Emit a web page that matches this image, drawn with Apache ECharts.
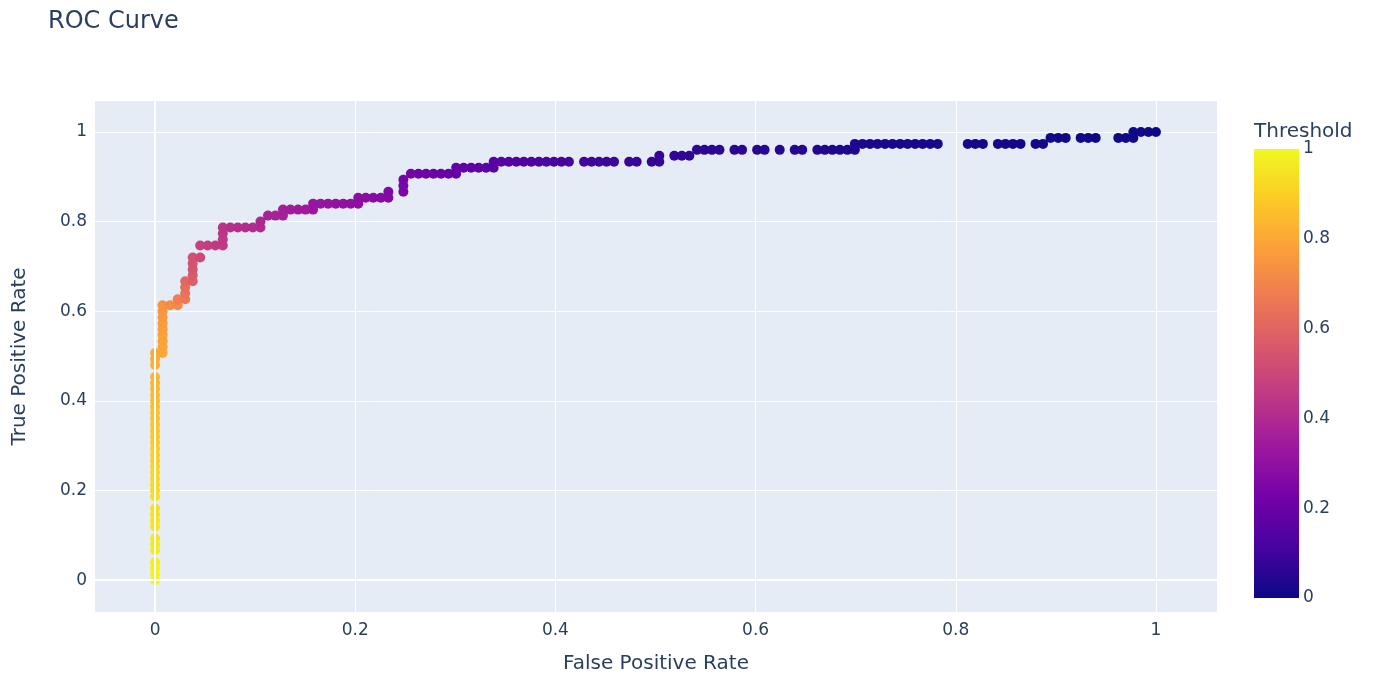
<!DOCTYPE html>
<html>
<head>
<meta charset="utf-8">
<script src="https://cdn.jsdelivr.net/npm/echarts@6/dist/echarts.min.js"></script>
<style>
html,body{margin:0;padding:0;background:#fff;}
#chart{width:1375px;height:676px;}
</style>
</head>
<body>
<div id="chart"></div>
<script>
// False positive rate per point
const fpr = [
  0,0,0,0, 0,0,0, 0,0,0,0, 0,0,0,0,0,0,0,0,0,0,0,0,0,0,0,0,0,0,0,0,0, 0,0,0,
  0.0075,0.0075,0.0075,0.0075,0.0075,0.0075,0.0075,0.0075,0.0075,
  0.015,0.0226, 0.0226,0.0301, 0.0301,0.0301,0.0301, 0.0376,0.0376,0.0376,0.0376,0.0376, 0.0451,
  0.0451,0.0526,0.0602,0.0677, 0.0677,0.0677,0.0677, 0.0752,0.0827,0.0902,0.0977,0.1053, 0.1053,
  0.1128,0.1203,0.1278, 0.1278,0.1353,0.1429,0.1504,0.1579, 0.1579,0.1654,0.1729,0.1805,0.188,0.1955,0.203, 0.203,0.2105,0.218,0.2256,0.2331,
  0.2331, 0.2481,0.2481,0.2481, 0.2556,0.2632,0.2707,0.2782,0.2857,0.2932,0.3008, 0.3008,0.3083,0.3158,0.3233,0.3308,0.3383,
  0.3383,0.3459,0.3534,0.3609,0.3684,0.3759,0.3835,0.391,0.3985,0.406,0.4135, 0.4286,0.4361,0.4436,0.4511,0.4586, 0.4737,0.4812, 0.4962,0.5038,
  0.5038,0.5188,0.5263,0.5338, 0.5414,0.5489,0.5564,0.5639, 0.5789,0.5865, 0.6015,0.609, 0.6241, 0.6391,0.6466, 0.6617,0.6692,0.6767,0.6842,0.6917,0.6992,
  0.6992, 0.7068,0.7143,0.7218,0.7293,0.7368,0.7444,0.7519,0.7594,0.7669,0.7744,0.782, 0.812,0.8195,0.8271, 0.8421,0.8496,0.8571,0.8647, 0.8797,0.8872,
  0.8947,0.9023,0.9098, 0.9248,0.9323,0.9398, 0.9624,0.9699,0.9774, 0.9774,0.985,0.9925,1
];
// True positive rate per point
const tpr = [
  0,0.0133,0.0267,0.04, 0.0667,0.08,0.0933, 0.12,0.1333,0.1467,0.16, 0.1867,0.2,0.2133,0.2267,0.24,0.2533,0.2667,0.28,0.2933,0.3067,0.32,0.3333,0.3467,0.36,0.3733,0.3867,0.4,0.4133,0.4267,0.44,0.4533, 0.48,0.4933,0.5067,
  0.5067,0.52,0.5333,0.5467,0.56,0.5733,0.5867,0.6,0.6133,
  0.6133,0.6133, 0.6267,0.6267, 0.64,0.6533,0.6667, 0.6667,0.68,0.6933,0.7067,0.72, 0.72,
  0.7467,0.7467,0.7467,0.7467, 0.76,0.7733,0.7867, 0.7867,0.7867,0.7867,0.7867,0.7867, 0.8,
  0.8133,0.8133,0.8133, 0.8267,0.8267,0.8267,0.8267,0.8267, 0.84,0.84,0.84,0.84,0.84,0.84,0.84, 0.8533,0.8533,0.8533,0.8533,0.8533,
  0.8667, 0.8667,0.88,0.8933, 0.9067,0.9067,0.9067,0.9067,0.9067,0.9067,0.9067, 0.92,0.92,0.92,0.92,0.92,0.92,
  0.9333,0.9333,0.9333,0.9333,0.9333,0.9333,0.9333,0.9333,0.9333,0.9333,0.9333, 0.9333,0.9333,0.9333,0.9333,0.9333, 0.9333,0.9333, 0.9333,0.9333,
  0.9467,0.9467,0.9467,0.9467, 0.96,0.96,0.96,0.96, 0.96,0.96, 0.96,0.96, 0.96, 0.96,0.96, 0.96,0.96,0.96,0.96,0.96,0.96,
  0.9733, 0.9733,0.9733,0.9733,0.9733,0.9733,0.9733,0.9733,0.9733,0.9733,0.9733,0.9733, 0.9733,0.9733,0.9733, 0.9733,0.9733,0.9733,0.9733, 0.9733,0.9733,
  0.9867,0.9867,0.9867, 0.9867,0.9867,0.9867, 0.9867,0.9867,0.9867, 1,1,1,1
];
// Decision threshold per point (colour)
const threshold = [
  0.99,0.985,0.98,0.975, 0.97,0.965,0.96, 0.955,0.95,0.945,0.94, 0.935,0.93,0.925,0.92,0.915,0.91,0.905,0.9,0.895,0.89,0.885,0.88,0.875,0.87,0.865,0.86,0.855,0.85,0.845,0.84,0.835, 0.82,0.815,0.81,
  0.8,0.79,0.785,0.78,0.775,0.77,0.76,0.75,0.74,
  0.72,0.71, 0.68,0.66, 0.64,0.63,0.61, 0.58,0.56,0.55,0.54,0.53, 0.51,
  0.48,0.47,0.46,0.455, 0.45,0.44,0.43, 0.42,0.415,0.41,0.405,0.4, 0.39,
  0.375,0.37,0.365, 0.355,0.35,0.345,0.34,0.335, 0.325,0.32,0.315,0.31,0.305,0.3,0.295, 0.29,0.285,0.28,0.275,0.27,
  0.26, 0.245,0.24,0.235, 0.225,0.22,0.215,0.21,0.205,0.2,0.195, 0.19,0.185,0.18,0.175,0.17,0.165,
  0.16,0.155,0.15,0.145,0.14,0.135,0.13,0.125,0.12,0.115,0.11, 0.105,0.1,0.097,0.094,0.091, 0.088,0.085, 0.082,0.079,
  0.076,0.073,0.07,0.067, 0.064,0.062,0.06,0.058, 0.056,0.054, 0.052,0.05, 0.048, 0.046,0.044, 0.042,0.04,0.038,0.036,0.034,0.032,
  0.03, 0.029,0.028,0.027,0.026,0.025,0.024,0.023,0.022,0.021,0.02,0.019, 0.018,0.017,0.016, 0.015,0.014,0.013,0.012, 0.011,0.01,
  0.009,0.0085,0.008, 0.0075,0.007,0.0065, 0.006,0.0055,0.005, 0.004,0.003,0.002,0.001
];
const axisTicks = [0, 0.2, 0.4, 0.6, 0.8, 1];
const plasma = ['#0d0887','#46039f','#7201a8','#9c179e','#bd3786','#d8576b','#ed7953','#fb9f3a','#fdca26','#f0f921'];

const FONT = 'DejaVu Sans';
const TXT = '#2a3f5f';
const points = fpr.map((x, k) => [x, tpr[k], threshold[k]]);

const chart = echarts.init(document.getElementById('chart'), null, {renderer: 'canvas'});
chart.setOption({
  animation: false,
  backgroundColor: '#ffffff',
  textStyle: {fontFamily: FONT},
  title: [
    {text: 'ROC Curve', left: 43, top: 5,
     textStyle: {fontFamily: FONT, fontSize: 24, fontWeight: 'normal', color: TXT}},
    {text: 'Threshold', left: 1249, top: 117,
     textStyle: {fontFamily: FONT, fontSize: 20, fontWeight: 'normal', color: TXT}}
  ],
  grid: [
    {left: 95, top: 101, width: 1122, height: 511, show: true, backgroundColor: '#e5ecf6', borderWidth: 0,
     containLabel: false, outerBoundsMode: 'none'},
    {left: 1254, top: 149, width: 45, height: 449, show: false, containLabel: false, outerBoundsMode: 'none'}
  ],
  xAxis: [
    {type: 'value', gridIndex: 0, min: -0.06, max: 1.061,
     name: 'False Positive Rate', nameLocation: 'middle', nameGap: 42, nameMoveOverlap: false,
     nameTextStyle: {fontFamily: FONT, fontSize: 20, color: TXT},
     axisLine: {show: false}, axisTick: {show: false, customValues: axisTicks},
     axisLabel: {customValues: axisTicks, fontFamily: FONT, fontSize: 17, color: TXT, margin: 10},
     splitLine: {show: true, lineStyle: {color: '#ffffff', width: 1}}},
    {type: 'category', gridIndex: 1, data: [''], show: false}
  ],
  yAxis: [
    {type: 'value', gridIndex: 0, min: -0.071, max: 1.069,
     name: 'True Positive Rate', nameLocation: 'middle', nameGap: 65, nameMoveOverlap: false,
     nameTextStyle: {fontFamily: FONT, fontSize: 20, color: TXT},
     axisLine: {show: false}, axisTick: {show: false, customValues: axisTicks},
     axisLabel: {customValues: axisTicks, fontFamily: FONT, fontSize: 17, color: TXT, margin: 8},
     splitLine: {show: true, lineStyle: {color: '#ffffff', width: 1}}},
    {type: 'value', gridIndex: 1, min: 0, max: 1, interval: 0.2, position: 'right',
     axisLine: {show: false}, axisTick: {show: false}, splitLine: {show: false},
     axisLabel: {fontFamily: FONT, fontSize: 17, color: TXT, margin: 4}}
  ],
  visualMap: {
    show: false, type: 'continuous', seriesIndex: 0, dimension: 2, min: 0, max: 1,
    inRange: {color: plasma}
  },
  series: [
    {type: 'scatter', xAxisIndex: 0, yAxisIndex: 0, z: 3, data: points,
     symbol: 'circle', symbolSize: 10, itemStyle: {opacity: 1}},
    {type: 'line', xAxisIndex: 0, yAxisIndex: 0, z: 1, data: [], silent: true,
     markLine: {silent: true, symbol: 'none', label: {show: false},
       lineStyle: {color: '#ffffff', width: 2, type: 'solid'},
       data: [{xAxis: 0}, {yAxis: 0}]}},
    {type: 'bar', xAxisIndex: 1, yAxisIndex: 1, data: [1], barWidth: '100%', silent: true,
     itemStyle: {color: new echarts.graphic.LinearGradient(0, 1, 0, 0,
       plasma.map((c, k) => ({offset: k / (plasma.length - 1), color: c})))}}
  ]
});
</script>
</body>
</html>
